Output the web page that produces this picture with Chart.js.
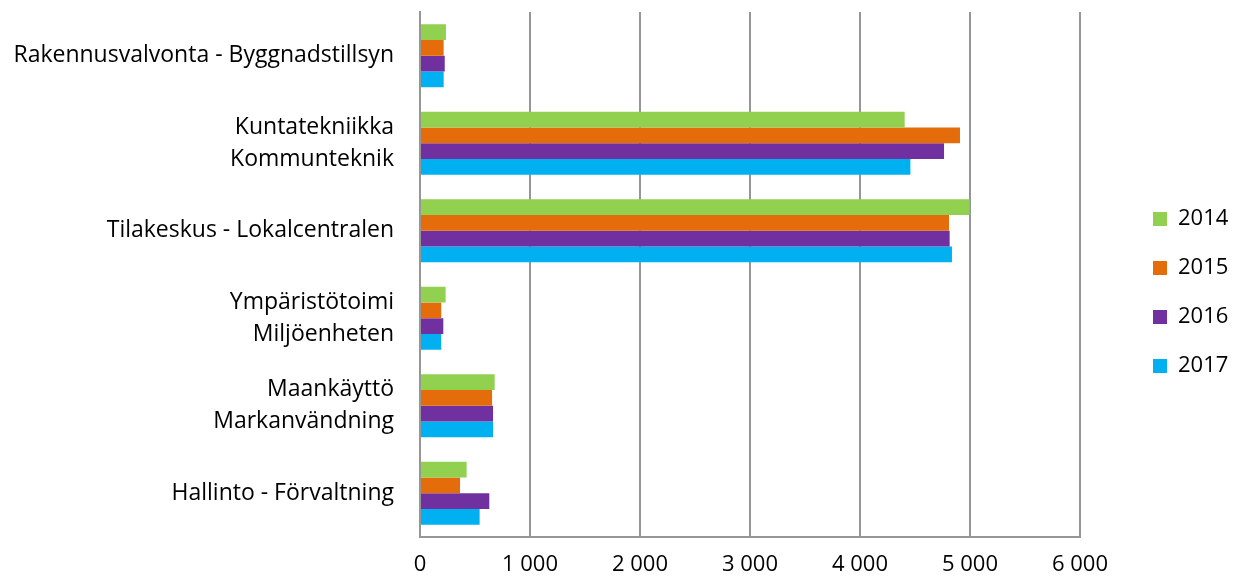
<!DOCTYPE html>
<html>
<head>
<meta charset="utf-8">
<script src="https://cdn.jsdelivr.net/npm/chart.js@4"></script>
<style>
  html, body { margin: 0; padding: 0; background: #fff; }
  #wrap { width: 1239px; height: 577px; position: relative; }
</style>
</head>
<body>
<div id="wrap"><canvas id="chart"></canvas></div>
<script>
// categories (top to bottom)
const categories = [
    'Rakennusvalvonta - Byggnadstillsyn',
    ['Kuntatekniikka', 'Kommunteknik'],
    'Tilakeskus - Lokalcentralen',
    ['Ympäristötoimi', 'Miljöenheten'],
    ['Maankäyttö', 'Markanvändning'],
    'Hallinto - Förvaltning'
];

const years = ['2014', '2015', '2016', '2017'];

const values2014 = [236, 4406, 4997, 233, 679, 424];
const values2015 = [215, 4909, 4809, 193, 655, 364];
const values2016 = [225, 4764, 4815, 212, 664, 630];
const values2017 = [215, 4458, 4836, 193, 664, 542];

const xTicks = [0, 1000, 2000, 3000, 4000, 5000, 6000];

const colors = ['#92D050', '#E46C0A', '#7030A0', '#00B0F0'];
const gridGrey = '#969696';
const fontFamily = '"Open Sans", "Noto Sans", sans-serif';
const fontSize = 22;

const seriesValues = [values2014, values2015, values2016, values2017];

const datasets = years.map((y, i) => ({
    label: y,
    data: seriesValues[i],
    backgroundColor: colors[i],
    borderWidth: 0,
    barPercentage: 1.0,
    categoryPercentage: 0.72
}));

function fmt(v) {
    return String(v).replace(/\B(?=(\d{3})+(?!\d))/g, ' ');
}

// legend sits to the right of the plot; fix its width and nudge it into place
const LEGEND_W = 159;
const LEGEND_BOX_X = 1153;
const LEGEND_SHIFT_Y = -2;
const legendPad = 27;

const legendPlacer = {
    id: 'legendPlacer',
    beforeLayout(chart) {
        const lg = chart.legend;
        if (lg && !lg._patched) {
            const origFit = lg.fit;
            lg.fit = function () {
                origFit.call(this);
                this.width = LEGEND_W;
            };
            lg._patched = true;
        }
    },
    afterLayout(chart) {
        const lg = chart.legend;
        if (!lg) return;
        lg.left = LEGEND_BOX_X - legendPad;
        lg.right = lg.left + LEGEND_W;
        lg.top += LEGEND_SHIFT_Y;
        lg.bottom += LEGEND_SHIFT_Y;
    }
};

new Chart(document.getElementById('chart'), {
    type: 'bar',
    data: { labels: categories, datasets: datasets },
    plugins: [legendPlacer],
    options: {
        indexAxis: 'y',
        responsive: true,
        maintainAspectRatio: false,
        animation: false,
        layout: { padding: { top: 12, left: 0, right: 0, bottom: 0 } },
        scales: {
            x: {
                min: 0,
                max: 6000,
                afterBuildTicks: (scale) => { scale.ticks = xTicks.map(v => ({ value: v })); },
                grid: { color: gridGrey, lineWidth: 2, drawTicks: false },
                border: { display: true, color: gridGrey, width: 2 },
                ticks: {
                    color: '#000',
                    font: { family: fontFamily, size: fontSize },
                    padding: 15,
                    callback: (v) => fmt(v)
                },
                afterFit: (scale) => { scale.height = 40; }
            },
            y: {
                grid: { display: false, drawTicks: false },
                border: { display: true, color: gridGrey, width: 2 },
                ticks: {
                    color: '#000',
                    font: { family: fontFamily, size: 23, lineHeight: 1.4 },
                    padding: 26
                },
                afterFit: (scale) => {
                    scale.width = 420;
                    scale.paddingTop = 0;
                    scale.paddingBottom = 0;
                }
            }
        },
        plugins: {
            legend: {
                position: 'right',
                align: 'center',
                labels: {
                    color: '#000',
                    font: { family: fontFamily, size: fontSize },
                    boxWidth: 14,
                    boxHeight: 14,
                    padding: legendPad
                }
            },
            tooltip: { enabled: false }
        }
    }
});
</script>
</body>
</html>
